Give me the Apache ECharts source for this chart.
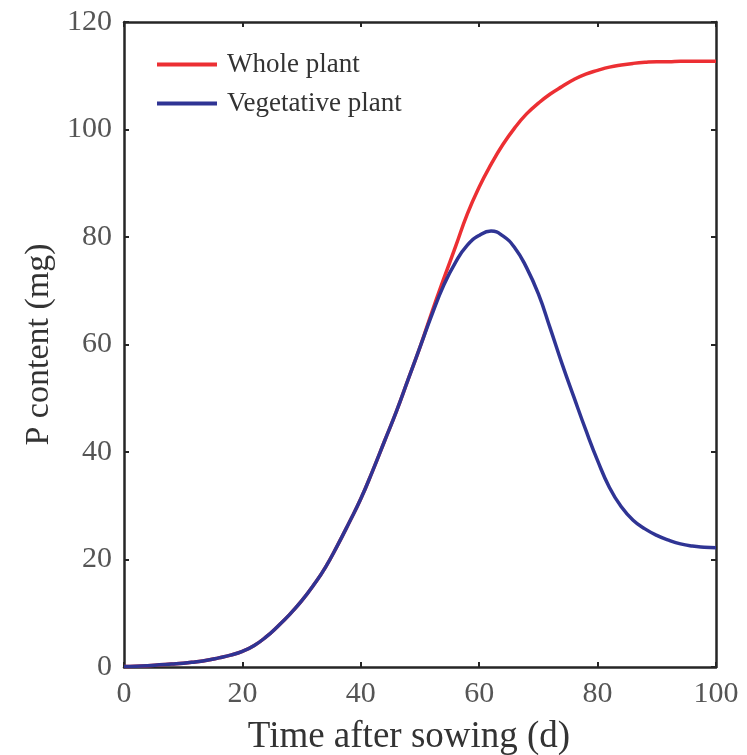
<!DOCTYPE html>
<html>
<head>
<meta charset="utf-8">
<script src="https://cdn.jsdelivr.net/npm/echarts@6/dist/echarts.min.js"></script>
<style>
html,body{margin:0;padding:0;background:#fff;}
#chart{width:747px;height:755px;}
</style>
</head>
<body>
<div id="chart"></div>
<script>
// Time after sowing (d)
const days = [0,2,4,6,8,10,12,14,16,18,20,22,24,26,28,30,32,34,36,38,40,42,44,46,48,50,52,54,56,58,60,62,64,66,68,70,72,74,76,78,80,82,84,86,88,90,92,94,96,98,100];
// P content (mg), whole plant
const wholePlant = [0.1,0.15,0.25,0.4,0.55,0.7,0.95,1.25,1.7,2.2,2.9,4.0,5.6,7.6,9.8,12.3,15.2,18.5,22.5,26.8,31.3,36.5,42.0,47.5,53.5,59.5,66.0,72.2,78.2,84.3,89.3,93.5,97.2,100.3,102.9,104.9,106.6,108.0,109.3,110.3,111.0,111.6,112.0,112.3,112.5,112.6,112.6,112.7,112.7,112.7,112.7];
// P content (mg), vegetative plant
const vegetativePlant = [0.1,0.15,0.25,0.4,0.55,0.7,0.95,1.25,1.7,2.2,2.9,4.0,5.6,7.6,9.8,12.3,15.2,18.5,22.5,26.8,31.3,36.5,42.0,47.5,53.5,59.5,65.5,71.0,75.3,78.5,80.3,81.1,80.2,78.0,74.3,69.4,63.0,56.4,50.2,44.1,38.4,33.4,29.8,27.3,25.7,24.5,23.6,22.9,22.5,22.3,22.2];
const xTicks = [0,20,40,60,80,100];
const yTicks = [0,20,40,60,80,100,120];
const seriesNames = ['Whole plant','Vegetative plant'];
const seriesColors = ['#ec2f33','#2f3494'];

const FONT = '"Liberation Serif", "DejaVu Serif", serif';
const chart = echarts.init(document.getElementById('chart'), null, {renderer:'canvas'});

const axisLineStyle = {color:'#262626', width:2.5};
const tickStyle = {show:true, inside:true, length:5, lineStyle:{color:'#262626', width:2}};

chart.setOption({
  animation:false,
  backgroundColor:'#fff',
  grid:{left:124, right:31, top:22, bottom:88, containLabel:false, outerBoundsMode:'none'},
  legend:{
    show:true, orient:'vertical', left:152, top:46,
    itemWidth:60, itemHeight:4, itemGap:12,
    textStyle:{fontFamily:FONT, fontSize:27, color:'#333', padding:[0,0,0,5]},
    data:seriesNames.map((n,i)=>({name:n, icon:'rect', itemStyle:{color:seriesColors[i]}}))
  },
  xAxis:[{
    type:'value', min:xTicks[0], max:xTicks[xTicks.length-1], interval:20,
    position:'bottom',
    name:'Time after sowing (d)', nameLocation:'middle', nameGap:52,
    nameTextStyle:{fontFamily:FONT, fontSize:37, color:'#333', padding:[0,22,0,0]},
    axisLine:{show:true, onZero:false, lineStyle:axisLineStyle},
    axisTick:tickStyle,
    axisLabel:{fontFamily:FONT, fontSize:30, color:'#555', margin:12},
    splitLine:{show:false}
  },{
    type:'value', min:xTicks[0], max:xTicks[xTicks.length-1], interval:20,
    position:'top',
    axisLine:{show:true, onZero:false, lineStyle:axisLineStyle},
    axisTick:tickStyle,
    axisLabel:{show:false},
    splitLine:{show:false}
  }],
  yAxis:[{
    type:'value', min:yTicks[0], max:yTicks[yTicks.length-1], interval:20,
    position:'left',
    name:'P content (mg)', nameLocation:'middle', nameGap:64,
    nameTextStyle:{fontFamily:FONT, fontSize:34, color:'#333'},
    axisLine:{show:true, onZero:false, lineStyle:axisLineStyle},
    axisTick:tickStyle,
    axisLabel:{fontFamily:FONT, fontSize:30, color:'#555', margin:12},
    splitLine:{show:false}
  },{
    type:'value', min:yTicks[0], max:yTicks[yTicks.length-1], interval:20,
    position:'right',
    axisLine:{show:true, onZero:false, lineStyle:axisLineStyle},
    axisTick:tickStyle,
    axisLabel:{show:false},
    splitLine:{show:false}
  }],
  series:[{
    name:seriesNames[0], type:'line', xAxisIndex:0, yAxisIndex:0,
    data:days.map((d,i)=>[d, wholePlant[i]]),
    smooth:0.5, symbol:'none',
    lineStyle:{color:seriesColors[0], width:3.5},
    itemStyle:{color:seriesColors[0]},
    z:2
  },{
    name:seriesNames[1], type:'line', xAxisIndex:0, yAxisIndex:0,
    data:days.map((d,i)=>[d, vegetativePlant[i]]),
    smooth:0.5, symbol:'none',
    lineStyle:{color:seriesColors[1], width:3.5},
    itemStyle:{color:seriesColors[1]},
    z:3
  }]
});
</script>
</body>
</html>
